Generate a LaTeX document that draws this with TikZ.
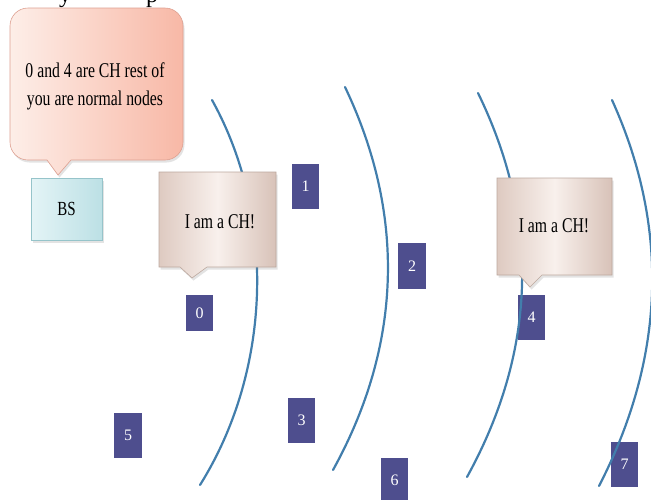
\documentclass[tikz,border=0pt]{standalone}
\usepackage{fontspec}
\setmainfont{Liberation Serif}
\newfontfamily\calloutfont[FakeStretch=0.75]{Liberation Serif}
\usetikzlibrary{shadows}

\definecolor{arcblue}{RGB}{66,126,172}
\definecolor{nodeblue}{RGB}{78,78,142}
\definecolor{pinkL}{RGB}{253,238,232}
\definecolor{pinkR}{RGB}{248,184,166}
\definecolor{pinkEdge}{RGB}{222,160,145}
\definecolor{beigeL}{RGB}{222,202,193}
\definecolor{beigeM}{RGB}{248,240,236}
\definecolor{beigeR}{RGB}{216,194,184}
\definecolor{beigeEdge}{RGB}{188,168,158}
\definecolor{cyanL}{RGB}{228,244,246}
\definecolor{cyanR}{RGB}{188,224,229}
\definecolor{cyanEdge}{RGB}{150,196,202}

\tikzset{
  numbox/.style={fill=nodeblue, text=white, inner sep=0pt,
    minimum width=27pt, minimum height=45pt,
    font=\fontsize{16}{16}\selectfont},
  rangearc/.style={draw=arcblue, line width=2.2pt, line cap=round},
  soft/.style={drop shadow={shadow xshift=1.5pt, shadow yshift=-2.5pt, opacity=0.22}},
  chbubble/.style={soft, draw=beigeEdge, line width=0.6pt,
    left color=beigeL, right color=beigeR, middle color=beigeM},
  calltext/.style={align=center, inner sep=0pt,
    font=\calloutfont\fontsize{21}{28}\selectfont}
}

\begin{document}
\begin{tikzpicture}[x=1pt,y=-1pt]
\useasboundingbox (0,0) rectangle (651,499);

% partly visible line of text running off the top edge
\node[anchor=base, inner sep=0pt, font=\fontsize{24}{24}\selectfont] (topy) at (65,2) {y};
\node[anchor=base, inner sep=0pt, font=\fontsize{24}{24}\selectfont] (topp) at (152,2) {p};

% sensor nodes
\node[numbox] (n1) at (305.5,186) {1};
\node[numbox, minimum height=46pt, minimum width=28pt] (n2) at (412,266) {2};
\node[numbox, minimum height=36pt] (n0) at (199.5,313) {0};
\node[numbox] (n3) at (301.5,420.5) {3};
\node[numbox] (n4) at (531.5,317.5) {4};
\node[numbox, minimum width=28pt] (n5) at (128,435.5) {5};
\node[numbox] (n6) at (394.5,480) {6};
\node[numbox] (n7) at (624.5,464.5) {7};

% transmission range arcs
\draw[rangearc] (212,100) .. controls (276,215) and (272,370) .. (200,485);
\draw[rangearc] (345,87) .. controls (406,215) and (402,345) .. (333,470);
\draw[rangearc] (478,93) .. controls (540,220) and (537,350) .. (467,477);
\draw[rangearc] (612,100) .. controls (670,228) and (665,358) .. (599,486);

% base station
\node[soft, draw=cyanEdge, line width=0.6pt, left color=cyanL, right color=cyanR,
      minimum width=71pt, minimum height=62pt, inner sep=0pt,
      font=\calloutfont\fontsize{20}{20}\selectfont] (bs) at (66.5,209) {BS};

% announcement bubble above the base station (rounded corners, sharp pointer)
\path[soft, draw=pinkEdge, line width=0.6pt, left color=pinkL, right color=pinkR]
  (28,8) -- (165,8) .. controls (175,8) and (183,16) .. (183,26)
  -- (183,142) .. controls (183,152) and (175,160) .. (165,160)
  -- (71,160) -- (58,175) -- (47,160) -- (28,160)
  .. controls (18,160) and (10,152) .. (10,142)
  -- (10,26) .. controls (10,16) and (18,8) .. (28,8) -- cycle;
\node[calltext] (msg) at (95,86) {0 and 4 are CH rest of\\you are normal nodes};

% cluster head bubbles
\path[chbubble] (159,172) -- (276,172) -- (276,267) -- (207,267)
  -- (192,278) -- (180,267) -- (159,267) -- cycle;
\node[calltext] (ch0) at (220,222) {I am a CH!};

\path[chbubble] (497,178) -- (612,178) -- (612,275) -- (542,275)
  -- (530,287) -- (519,275) -- (497,275) -- cycle;
\node[calltext] (ch4) at (554,226) {I am a CH!};
\end{tikzpicture}
\end{document}
